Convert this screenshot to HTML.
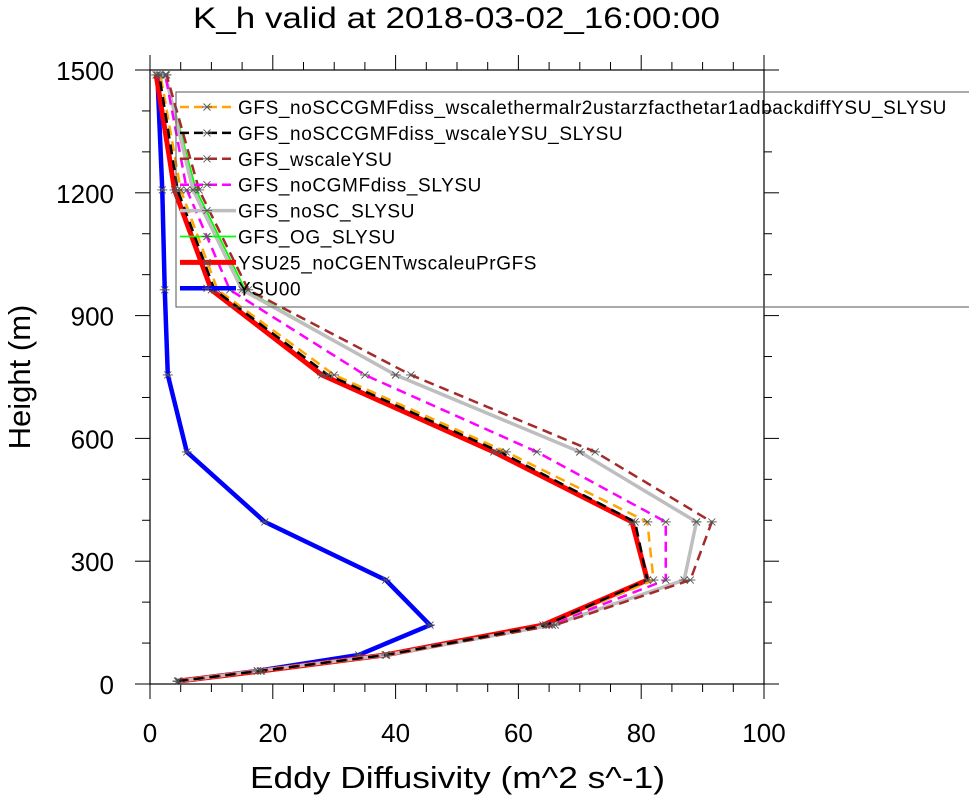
<!DOCTYPE html>
<html><head><meta charset="utf-8"><style>
html,body{margin:0;padding:0;background:#fff;}
svg text{font-family:"Liberation Sans",sans-serif;}
</style></head><body>
<svg id="chart" width="969" height="796" viewBox="0 0 969 796" xmlns="http://www.w3.org/2000/svg">
<text x="193" y="28" font-size="30" textLength="527" lengthAdjust="spacingAndGlyphs">K_h valid at 2018-03-02_16:00:00</text>
<g id="axes"></g>
<g id="series"></g>
<g id="legend"></g>
<text x="250" y="788" font-size="31" textLength="415" lengthAdjust="spacingAndGlyphs">Eddy Diffusivity (m^2 s^-1)</text>
<text transform="translate(30,377) rotate(-90)" font-size="31" text-anchor="middle">Height (m)</text>
</svg>
<script>
const heights = [7, 32, 71, 144, 254, 396, 567, 755, 963, 1207, 1488];
const seriesNames = ["GFS_noSCCGMFdiss_wscalethermalr2ustarzfacthetar1adbackdiffYSU_SLYSU","GFS_noSCCGMFdiss_wscaleYSU_SLYSU","GFS_wscaleYSU","GFS_noCGMFdiss_SLYSU","GFS_noSC_SLYSU","GFS_OG_SLYSU","YSU25_noCGENTwscaleuPrGFS","YSU00"];
const orangeVals = [4.5, 18, 38.5, 64.5, 82, 81, 58, 30, 11, 5, 1.7];
const blackVals = [4.5, 18, 38.5, 64.5, 81, 79, 57, 29, 10.5, 4.5, 1.5];
const brownVals = [4.7, 17.5, 38.5, 66, 88, 91.5, 72.5, 42.5, 16, 8, 2.7];
const magentaVals = [4.7, 17.5, 38.5, 65, 84, 84, 63, 35, 13, 6, 2.5];
const grayVals = [4.7, 17.5, 38.5, 65.5, 87, 89, 70, 40, 15, 7, 2.5];
const greenVals = [4.7, 17.5, 38.5, 65.5, 87, 89, 70, 40, 15.5, 7.5, 2.5];
const redVals = [4.6, 18.2, 38.3, 64, 81, 78.5, 56, 28, 10, 4, 1];
const blueVals = [4.5, 17.5, 34, 45.6, 38.4, 18.7, 6, 2.9, 2.4, 2, 1.2];
const xTicks = [0, 20, 40, 60, 80, 100];
const yTicks = [0, 300, 600, 900, 1200, 1500];

const NS="http://www.w3.org/2000/svg";
const L=150,R=764,T=70,B=684;
const xs=v=>L+(v/100)*(R-L);
const ys=v=>B-(v/1500)*(B-T);
function mk(tag,attrs,parent){const e=document.createElementNS(NS,tag);for(const k in attrs)e.setAttribute(k,attrs[k]);parent.appendChild(e);return e;}
const axes=document.getElementById('axes');
const frame=mk('rect',{x:L,y:T,width:R-L,height:B-T,fill:'none',stroke:'#000','stroke-width':1.2},axes);


for(let v=0;v<=100;v+=5){
  const major=v%20===0;const len=major?15:8;const x=xs(v);
  const t1=mk('line',{x1:x,y1:B,x2:x,y2:B+len,stroke:'#000','stroke-width':1},axes);
  
  
  const t2=mk('line',{x1:x,y1:T,x2:x,y2:T-len,stroke:'#000','stroke-width':1},axes);
  
  
}
for(let v=0;v<=1500;v+=100){
  const major=v%300===0;const len=major?15:8;const y=ys(v);
  const t1=mk('line',{x1:L,y1:y,x2:L-len,y2:y,stroke:'#000','stroke-width':1},axes);
  
  
  const t2=mk('line',{x1:R,y1:y,x2:R+len,y2:y,stroke:'#000','stroke-width':1},axes);
  
  
}
xTicks.forEach(v=>{const t=mk('text',{x:xs(v),y:742,'font-size':26,'text-anchor':'middle'},axes);t.textContent=v;
  
  });
yTicks.forEach(v=>{const t=mk('text',{x:114,y:ys(v)+10,'font-size':26,'text-anchor':'end'},axes);t.textContent=v;
  
  });

const styles=[
 {vals:orangeVals,color:'#ffa500',w:2.5,dash:'10,6'},
 {vals:blackVals,color:'#000',w:2.5,dash:'10,6'},
 {vals:brownVals,color:'#a52a2a',w:2.5,dash:'10,6'},
 {vals:magentaVals,color:'#ff00ff',w:2.5,dash:'10,6'},
 {vals:grayVals,color:'#bebebe',w:3.5,dash:''},
 {vals:greenVals,color:'#00ff00',w:1.8,dash:''},
 {vals:redVals,color:'#ff0000',w:5,dash:''},
 {vals:blueVals,color:'#0000ff',w:4.5,dash:''}
];
const sg=document.getElementById('series');
function star(x,y,parent){
  const g=mk('g',{stroke:'#555','stroke-width':0.9},parent);
  
  
  const r=5;
  mk('line',{x1:x-r,y1:y,x2:x+r,y2:y},g);
  mk('line',{x1:x-r*0.7,y1:y-r*0.7,x2:x+r*0.7,y2:y+r*0.7},g);
  mk('line',{x1:x-r*0.7,y1:y+r*0.7,x2:x+r*0.7,y2:y-r*0.7},g);
}
const orderDrawn=[7,6,5,4,3,2,0,1];
orderDrawn.forEach(i=>{
  const s=styles[i];
  const pts=s.vals.map((v,j)=>xs(v)+','+ys(heights[j])).join(' ');
  const p=mk('polyline',{points:pts,fill:'none',stroke:s.color,'stroke-width':s.w,'stroke-dasharray':s.dash,'stroke-linejoin':'miter'},sg);
  
  
  s.vals.forEach((v,j)=>star(xs(v),ys(heights[j]),sg));
});
const lg=document.getElementById('legend');
const box=mk('rect',{x:176,y:92,width:800,height:215,fill:'none',stroke:'#555','stroke-width':1},lg);


seriesNames.forEach((n,i)=>{
  const s=styles[i];const y=107+i*25.9;
  const g=mk('g',{},lg);
  
  
  mk('line',{x1:180,y1:y,x2:236,y2:y,stroke:s.color,'stroke-width':s.w,'stroke-dasharray':s.dash?'9,5':''},g);
  star(207,y,g);
  const t=mk('text',{x:238,y:y+7,'font-size':19,'letter-spacing':'0.6'},g);t.textContent=n;
});
</script>
</body></html>
